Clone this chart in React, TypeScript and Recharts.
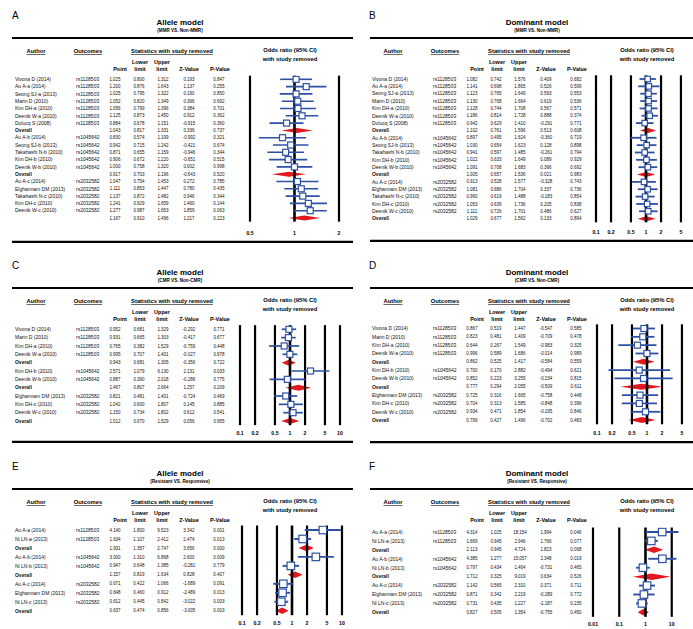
import React from 'react';
import { ScatterChart, Scatter, XAxis, YAxis, ErrorBar, ReferenceLine, ReferenceArea } from 'recharts';

const FONT = '"Liberation Sans", Arial, Helvetica, sans-serif';
const BLUE = '#2C50A4';
const RED = '#E3171E';
const TEXT = '#111';

// ---- row labels ----
const mmrAuthors = [
  'Vivona D (2014)', 'Au A-a (2014)', 'Seong SJ-a (2013)', 'Marin D (2010)', 'Kim DH-a (2010)',
  'Deenik W-a (2010)', 'Dulucq S (2008)', 'Overall', 'Au A-b (2014)', 'Seong SJ-b (2013)',
  'Takahashi N-b (2010)', 'Kim DH-b (2010)', 'Deenik W-b (2010)', 'Overall', 'Au A-c (2014)',
  'Elghannam DM (2013)', 'Takahashi N-c (2010)', 'Kim DH-c (2010)', 'Deenik W-c (2010)', 'Overall',
];
const mmrGenes = [
  'rs1128503', 'rs1128503', 'rs1128503', 'rs1128503', 'rs1128503', 'rs1128503', 'rs1128503', '',
  'rs1045642', 'rs1045642', 'rs1045642', 'rs1045642', 'rs1045642', '',
  'rs2032582', 'rs2032582', 'rs2032582', 'rs2032582', 'rs2032582', '',
];
const mmrOverall = [7, 13, 19];

const cmrAuthors = [
  'Vivona D (2014)', 'Marin D (2010)', 'Kim DH-a (2010)', 'Deenik W-a (2010)', 'Overall',
  'Kim DH-b (2010)', 'Deenik W-b (2010)', 'Overall',
  'Elghannam DM (2013)', 'Kim DH-c (2010)', 'Deenik W-c (2010)', 'Overall',
];
const cmrGenes = [
  'rs1128503', 'rs1128503', 'rs1128503', 'rs1128503', '',
  'rs1045642', 'rs1045642', '',
  'rs2032582', 'rs2032582', 'rs2032582', '',
];
const cmrOverall = [4, 7, 11];

const respAuthors = [
  'Au A-a (2014)', 'Ni LN-a (2013)', 'Overall', 'Au A-b (2014)', 'Ni LN-b (2013)', 'Overall',
  'Au A-c (2014)', 'Elghannam DM (2013)', 'Ni LN-c (2013)', 'Overall',
];
const respGenes = [
  'rs1128503', 'rs1128503', '', 'rs1045642', 'rs1045642', '',
  'rs2032582', 'rs2032582', 'rs2032582', '',
];
const respOverall = [2, 5, 9];

// ---- A: allele model, MMR vs non-MMR ----
const aPoint = [1.025, 1.2, 1.025, 1.052, 1.056, 1.125, 0.884, 1.043, 0.83, 0.942, 0.871, 0.906, 1.0, 0.917, 1.047, 1.111, 1.137, 1.241, 1.277, 1.167];
const aLower = [0.8, 0.876, 0.795, 0.82, 0.799, 0.873, 0.678, 0.817, 0.574, 0.715, 0.655, 0.672, 0.758, 0.703, 0.754, 0.853, 0.872, 0.929, 0.987, 0.91];
const aUpper = [1.312, 1.643, 1.322, 1.349, 1.396, 1.45, 1.151, 1.331, 1.199, 1.242, 1.159, 1.22, 1.32, 1.196, 1.453, 1.447, 1.482, 1.659, 1.653, 1.496];
const aZ = [0.193, 1.137, 0.19, 0.396, 0.384, 0.912, -0.915, 0.336, -0.992, -0.421, -0.946, -0.651, 0.002, -0.643, 0.272, 0.78, 0.946, 1.46, 1.859, 1.217];
const aP = [0.847, 0.255, 0.85, 0.692, 0.701, 0.362, 0.36, 0.737, 0.321, 0.674, 0.344, 0.515, 0.998, 0.52, 0.785, 0.435, 0.344, 0.144, 0.063, 0.223];

// ---- B: dominant model, MMR vs non-MMR ----
const bPoint = [1.082, 1.141, 1.123, 1.13, 1.128, 1.186, 0.942, 1.102, 0.897, 1.03, 0.941, 1.022, 1.091, 1.005, 0.913, 1.081, 0.96, 1.053, 1.111, 1.029];
const bLower = [0.742, 0.698, 0.765, 0.768, 0.744, 0.814, 0.629, 0.761, 0.495, 0.654, 0.597, 0.633, 0.708, 0.657, 0.528, 0.686, 0.619, 0.639, 0.726, 0.677];
const bUpper = [1.576, 1.865, 1.649, 1.664, 1.708, 1.728, 1.41, 1.596, 1.624, 1.623, 1.485, 1.649, 1.683, 1.536, 1.577, 1.704, 1.488, 1.736, 1.701, 1.562];
const bZ = [0.409, 0.526, 0.593, 0.619, 0.567, 0.888, -0.291, 0.513, -0.36, 0.128, -0.261, 0.089, 0.396, 0.021, -0.328, 0.337, -0.183, 0.205, 0.486, 0.133];
const bP = [0.682, 0.599, 0.553, 0.536, 0.571, 0.374, 0.771, 0.608, 0.719, 0.898, 0.794, 0.929, 0.692, 0.983, 0.743, 0.736, 0.854, 0.838, 0.627, 0.894];

// ---- C: allele model, CMR vs non-CMR ----
const cPoint = [0.952, 0.931, 0.765, 0.995, 0.943, 2.571, 0.887, 1.467, 0.821, 1.042, 1.15, 1.012];
const cLower = [0.681, 0.665, 0.382, 0.707, 0.681, 1.079, 0.39, 0.807, 0.481, 0.6, 0.734, 0.67];
const cUpper = [1.329, 1.303, 1.529, 1.401, 1.305, 6.13, 2.018, 2.664, 1.401, 1.807, 1.802, 1.529];
const cZ = [-0.292, -0.417, -0.759, -0.027, -0.356, 2.131, -0.286, 1.257, -0.724, 0.145, 0.612, 0.056];
const cP = [0.771, 0.677, 0.448, 0.978, 0.722, 0.033, 0.775, 0.209, 0.469, 0.885, 0.541, 0.955];

// ---- D: dominant model, CMR vs non-CMR ----
const dPoint = [0.867, 0.823, 0.644, 0.996, 0.862, 0.7, 0.852, 0.777, 0.725, 0.704, 0.934, 0.799];
const dLower = [0.519, 0.481, 0.267, 0.589, 0.525, 0.17, 0.223, 0.294, 0.316, 0.313, 0.471, 0.427];
const dUpper = [1.447, 1.409, 1.549, 1.686, 1.417, 2.882, 3.255, 2.055, 1.665, 1.585, 1.854, 1.496];
const dZ = [-0.547, -0.709, -0.983, -0.014, -0.584, -0.494, -0.234, -0.509, -0.758, -0.848, -0.195, -0.702];
const dP = [0.585, 0.478, 0.325, 0.989, 0.559, 0.621, 0.815, 0.611, 0.448, 0.396, 0.846, 0.483];

// ---- E: allele model, resistant vs responsive ----
const ePoint = [4.14, 1.634, 1.931, 3.0, 0.947, 1.157, 0.671, 0.648, 0.612, 0.637];
const eLower = [1.8, 1.107, 1.357, 1.31, 0.648, 0.819, 0.422, 0.46, 0.445, 0.474];
const eUpper = [9.523, 2.412, 2.747, 6.868, 1.385, 1.634, 1.066, 0.912, 0.842, 0.856];
const eZ = [3.342, 2.474, 3.656, 2.6, -0.281, 0.828, -1.689, -2.489, -3.022, -3.005];
const eP = [0.001, 0.013, 0.0, 0.009, 0.779, 0.407, 0.091, 0.013, 0.003, 0.003];

// ---- F: dominant model, resistant vs responsive ----
const fPoint = [4.314, 1.669, 2.113, 4.385, 0.797, 1.712, 1.142, 0.871, 0.731, 0.827];
const fLower = [1.025, 0.945, 0.945, 1.277, 0.434, 0.325, 0.565, 0.342, 0.435, 0.505];
const fUpper = [18.154, 2.946, 4.724, 15.057, 1.464, 9.019, 2.31, 2.219, 1.227, 1.354];
const fZ = [1.994, 1.766, 1.823, 2.348, -0.731, 0.634, 0.371, -0.289, -1.187, -0.755];
const fP = [0.046, 0.077, 0.068, 0.019, 0.465, 0.526, 0.711, 0.772, 0.235, 0.45];

// ---- axis ticks ----
const ticksNarrow = [0.5, 1, 2];
const ticksWide = [0.1, 0.2, 0.5, 1, 2, 5, 10];
const ticksDecade = [0.01, 0.1, 1, 10, 100];
const tickLabelsNarrow = ['0.5', '1', '2'];
const tickLabelsWide = ['0.1', '0.2', '0.5', '1', '2', '5', '10'];
const tickLabelsDecade = ['0.01', '0.1', '1', '10', '100'];

type Panel = {
  letter: string;
  title: string;
  subtitle: string;
  left: number;
  top: number;
  authors: string[];
  genes: string[];
  overall: number[];
  point: number[];
  lower: number[];
  upper: number[];
  z: number[];
  p: number[];
  ticks: number[];
  tickLabels: string[];
  plotLeft: number;
  plotRight: number;
  row0: number;
  gap: number;
  tickDy: number;
  box: number;
  diamondH: number;
  lineW: number;
  ruleStart: number;
  ruleEnd: number;
};

const W = 352;
// column centres for the statistics block
const COL = { point: 115, lower: 139, upper: 163, z: 189, p: 219 };

function Forest({ s }: { s: Panel }) {
  const n = s.point.length;
  const rowTop = s.row0 - s.gap / 2;
  const plotBottom = rowTop + n * s.gap;
  const H = plotBottom + 20;
  const study = s.point
    .map((v, i) => ({ x: v, y: i, err: [v - s.lower[i], s.upper[i] - v] }))
    .filter((d) => !s.overall.includes(d.y));
  const dh = s.diamondH / s.gap / 2;

  const RowTick = (props: any) => {
    const i = props.payload.value as number;
    const y = props.y;
    const isOverall = s.overall.includes(i);
    const num = { fontSize: 4.5, fill: TEXT, textAnchor: 'middle' as const };
    return (
      <g fontFamily={FONT}>
        <text x={15} y={y + 1.8} fontSize={5} fontWeight={isOverall ? 700 : 400} fill={TEXT}>
          {s.authors[i]}
        </text>
        <text x={76} y={y + 1.8} fontSize={5} fill={TEXT}>{s.genes[i]}</text>
        <text x={COL.point} y={y + 1.6} {...num}>{s.point[i].toFixed(3)}</text>
        <text x={COL.lower} y={y + 1.6} {...num}>{s.lower[i].toFixed(3)}</text>
        <text x={COL.upper} y={y + 1.6} {...num}>{s.upper[i].toFixed(3)}</text>
        <text x={COL.z} y={y + 1.6} {...num}>{s.z[i].toFixed(3)}</text>
        <text x={COL.p} y={y + 1.6} {...num}>{s.p[i].toFixed(3)}</text>
      </g>
    );
  };

  const AxisTick = (props: any) => {
    const idx = s.ticks.indexOf(props.payload.value);
    return (
      <text x={props.x} y={props.y + s.tickDy} textAnchor="middle" fontFamily={FONT} fontSize={5.2} fontWeight={700} fill="#000">
        {s.tickLabels[idx]}
      </text>
    );
  };

  const hb = { fontFamily: FONT, fontWeight: 700, fill: '#000' } as const;

  return (
    <div style={{ position: 'absolute', left: s.left, top: s.top, width: W, height: H + 20 }}>
      <svg width={W} height={H + 20} style={{ position: 'absolute', left: 0, top: 0, overflow: 'visible' }}>
        <text x={12} y={18.5} fontFamily={FONT} fontSize={10} fill="#000">{s.letter}</text>
        <text x={180} y={25} textAnchor="middle" fontSize={8} {...hb}>{s.title}</text>
        <text x={180} y={31.8} textAnchor="middle" fontSize={4.6} {...hb}>{s.subtitle}</text>
        <line x1={s.ruleStart} x2={s.ruleEnd} y1={38} y2={38} stroke="#000" strokeWidth={2.2} />
        <text x={36} y={53.2} textAnchor="middle" fontSize={5.8} textDecoration="underline" {...hb}>Author</text>
        <text x={88} y={53.2} textAnchor="middle" fontSize={5.8} textDecoration="underline" {...hb}>Outcomes</text>
        <text x={172} y={53.2} textAnchor="middle" fontSize={5.8} textDecoration="underline" {...hb}>
          Statistics with study removed
        </text>
        <text x={290} y={52.4} textAnchor="middle" fontSize={5.8} {...hb}>Odds ratio (95% CI)</text>
        <text x={290} y={61} textAnchor="middle" fontSize={5.8} {...hb}>with study removed</text>
        <text x={140} y={64.3} textAnchor="middle" fontSize={5.5} {...hb}>Lower</text>
        <text x={162} y={64.3} textAnchor="middle" fontSize={5.5} {...hb}>Upper</text>
        <text x={120} y={71} textAnchor="middle" fontSize={5.5} {...hb}>Point</text>
        <text x={140} y={71} textAnchor="middle" fontSize={5.5} {...hb}>limit</text>
        <text x={162} y={71} textAnchor="middle" fontSize={5.5} {...hb}>limit</text>
        <text x={189} y={71} textAnchor="middle" fontSize={5.5} {...hb}>Z-Value</text>
        <text x={220} y={71} textAnchor="middle" fontSize={5.5} {...hb}>P-Value</text>
        <line
          x1={s.ruleStart}
          x2={s.ruleEnd}
          y1={plotBottom + s.tickDy + 7}
          y2={plotBottom + s.tickDy + 7}
          stroke="#000"
          strokeWidth={2.2}
        />
      </svg>
      <div style={{ position: 'absolute', left: 0, top: 0 }}>
        <ScatterChart
          width={W}
          height={H}
          margin={{ top: rowTop, right: W - s.plotRight, bottom: 0, left: 0 }}
        >
          <XAxis
            dataKey="x"
            type="number"
            scale="log"
            domain={[s.ticks[0], s.ticks[s.ticks.length - 1]]}
            ticks={s.ticks}
            allowDataOverflow
            axisLine={false}
            tickLine={false}
            tickSize={0}
            tickMargin={0}
            height={20}
            interval={0}
            tick={AxisTick}
          />
          <YAxis
            dataKey="y"
            type="number"
            domain={[-0.5, n - 0.5]}
            reversed
            allowDataOverflow
            ticks={s.point.map((_, i) => i)}
            interval={0}
            width={s.plotLeft}
            axisLine={false}
            tickLine={false}
            tick={RowTick}
          />
          {s.ticks.map((t) => (
            <ReferenceLine
              key={t}
              x={t}
              stroke="#000"
              strokeWidth={t === 1 ? 2.6 : 2.2}
              ifOverflow="visible"
            />
          ))}
          <Scatter
            data={study}
            dataKey="x"
            isAnimationActive={false}
            shape={(p: any) => (
              <rect
                x={p.cx - s.box / 2}
                y={p.cy - s.box / 2}
                width={s.box}
                height={s.box}
                fill="#fff"
                stroke={BLUE}
                strokeWidth={1.2}
              />
            )}
          >
            <ErrorBar
              dataKey="err"
              direction="x"
              width={0}
              stroke={BLUE}
              strokeWidth={s.lineW}
              isAnimationActive={false}
            />
          </Scatter>
          {s.overall.map((i) => (
            <ReferenceArea
              key={i}
              x1={s.lower[i]}
              x2={s.upper[i]}
              y1={i - dh}
              y2={i + dh}
              ifOverflow="visible"
              shape={(r: any) => {
                const { x, y, width, height } = r;
                const pts = [
                  [x, y + height / 2],
                  [x + width / 2, y],
                  [x + width, y + height / 2],
                  [x + width / 2, y + height],
                ]
                  .map((q) => q.join(','))
                  .join(' ');
                return <polygon points={pts} fill={RED} stroke="none" />;
              }}
            />
          ))}
        </ScatterChart>
      </div>
    </div>
  );
}

const panels: Panel[] = [
  {
    letter: 'A', title: 'Allele model', subtitle: '(MMR VS. Non-MMR)', left: 0, top: 0,
    authors: [...mmrAuthors.slice(0, -1), ''], genes: mmrGenes, overall: mmrOverall,
    point: aPoint, lower: aLower, upper: aUpper, z: aZ, p: aP,
    ticks: ticksNarrow, tickLabels: tickLabelsNarrow, plotLeft: 250, plotRight: 339,
    row0: 79.3, gap: 7.3, tickDy: 13.2, box: 6, diamondH: 5, lineW: 1.6, ruleStart: 12, ruleEnd: 353,
  },
  {
    letter: 'B', title: 'Dominant model', subtitle: '(MMR VS. Non-MMR)', left: 357, top: 0,
    authors: mmrAuthors, genes: mmrGenes, overall: mmrOverall,
    point: bPoint, lower: bLower, upper: bUpper, z: bZ, p: bP,
    ticks: ticksWide, tickLabels: tickLabelsWide, plotLeft: 239, plotRight: 339,
    row0: 79, gap: 7.35, tickDy: 11.5, box: 5.5, diamondH: 5, lineW: 1.8, ruleStart: 13, ruleEnd: 360,
  },
  {
    letter: 'C', title: 'Allele model', subtitle: '(CMR VS. Non-CMR)', left: 0, top: 250,
    authors: cmrAuthors, genes: cmrGenes, overall: cmrOverall,
    point: cPoint, lower: cLower, upper: cUpper, z: cZ, p: cP,
    ticks: ticksWide, tickLabels: tickLabelsWide, plotLeft: 240, plotRight: 340,
    row0: 79.3, gap: 8.34, tickDy: 9.6, box: 6, diamondH: 6, lineW: 1.7, ruleStart: 12, ruleEnd: 353,
  },
  {
    letter: 'D', title: 'Dominant model', subtitle: '(CMR VS. Non-CMR)', left: 357, top: 250,
    authors: cmrAuthors, genes: cmrGenes, overall: cmrOverall,
    point: dPoint, lower: dLower, upper: dUpper, z: dZ, p: dP,
    ticks: ticksWide, tickLabels: tickLabelsWide, plotLeft: 240, plotRight: 340,
    row0: 78.5, gap: 8.33, tickDy: 10.8, box: 6, diamondH: 6, lineW: 1.8, ruleStart: 13, ruleEnd: 360,
  },
  {
    letter: 'E', title: 'Allele model', subtitle: '(Resistant VS. Responsive)', left: 0, top: 451,
    authors: respAuthors, genes: respGenes, overall: respOverall,
    point: ePoint, lower: eLower, upper: eUpper, z: eZ, p: eP,
    ticks: ticksWide, tickLabels: tickLabelsWide, plotLeft: 242, plotRight: 342,
    row0: 79, gap: 8.97, tickDy: 9.9, box: 7.5, diamondH: 6.5, lineW: 1.9, ruleStart: 12, ruleEnd: 353,
  },
  {
    letter: 'F', title: 'Dominant model', subtitle: '(Resistant VS. Responsive)', left: 357, top: 451,
    authors: respAuthors, genes: respGenes, overall: respOverall,
    point: fPoint, lower: fLower, upper: fUpper, z: fZ, p: fP,
    ticks: ticksDecade, tickLabels: tickLabelsDecade, plotLeft: 236, plotRight: 341,
    row0: 81, gap: 8.93, tickDy: 9.3, box: 7.5, diamondH: 6.5, lineW: 1.9, ruleStart: 13, ruleEnd: 360,
  },
];

export default function App() {
  return (
    <div
      style={{
        position: 'absolute',
        left: 0,
        top: 0,
        width: 693,
        height: 629,
        overflow: 'hidden',
        background: '#fff',
      }}
    >
      {panels.map((s) => (
        <Forest key={s.letter} s={s} />
      ))}
    </div>
  );
}
